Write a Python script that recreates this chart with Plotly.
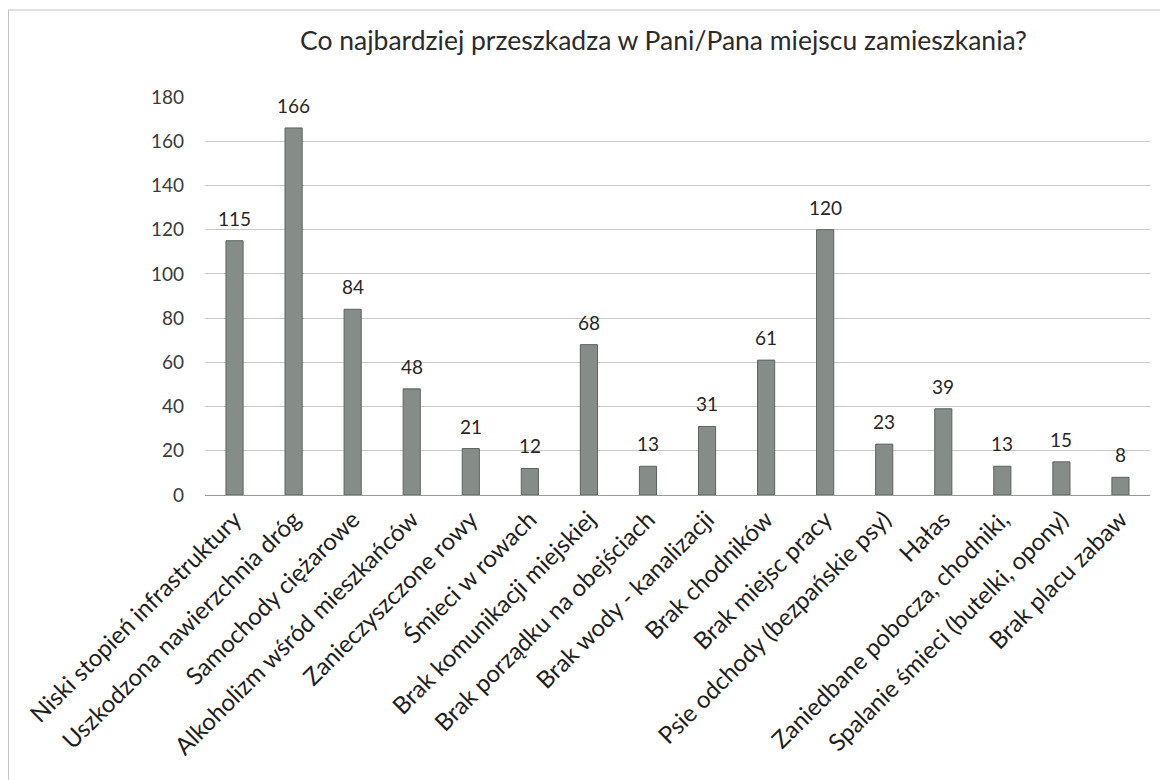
import plotly.graph_objects as go

title = "Co najbardziej przeszkadza w Pani/Pana miejscu zamieszkania?"
categories = [
    "Niski stopień infrastruktury",
    "Uszkodzona nawierzchnia dróg",
    "Samochody ciężarowe",
    "Alkoholizm wśród mieszkańców",
    "Zanieczyszczone rowy",
    "Śmieci w rowach",
    "Brak komunikacji miejskiej",
    "Brak porządku na obejściach",
    "Brak wody - kanalizacji",
    "Brak chodników",
    "Brak miejsc pracy",
    "Psie odchody (bezpańskie psy)",
    "Hałas",
    "Zaniedbane pobocza, chodniki,",
    "Spalanie śmieci (butelki, opony)",
    "Brak placu zabaw",
]
values = [115, 166, 84, 48, 21, 12, 68, 13, 31, 61, 120, 23, 39, 13, 15, 8]
y_ticks = [0, 20, 40, 60, 80, 100, 120, 140, 160, 180]

# page is offset by the 8px body margin of the html page
OFF = 8
W, H = 1168 - OFF, 780 - OFF
L, R, T, B = 205 - OFF, 1150 - OFF, 97 - OFF, 495 - OFF
FONT = "Lato, 'Open Sans', sans-serif"


def px_x(p):
    return (p - OFF - L) / (R - L)


def px_y(p):
    return (B - (p - OFF)) / (B - T)


fig = go.Figure()
fig.add_trace(go.Bar(
    x=categories,
    y=values,
    marker=dict(color="#868d89", line=dict(color="#5c625e", width=1)),
    hoverinfo="x+y",
))

annotations = []
for c, v in zip(categories, values):
    annotations.append(dict(
        x=c, y=v, xref="x", yref="y", text=str(v), showarrow=False,
        yanchor="bottom", yshift=9,
        font=dict(family=FONT, size=19, color="#262626"),
    ))
annotations.append(dict(
    x=px_x(663), y=px_y(40), xref="paper", yref="paper", text=title,
    showarrow=False, xanchor="center", yanchor="middle",
    font=dict(family=FONT, size=26.5, color="#2b2b2b"),
))

shapes = [
    dict(type="line", xref="paper", yref="paper",
         x0=px_x(8), x1=px_x(1168), y0=px_y(10), y1=px_y(10),
         line=dict(color="#c4c4c4", width=1)),
    dict(type="line", xref="paper", yref="paper",
         x0=px_x(8.5), x1=px_x(8.5), y0=px_y(10), y1=px_y(780),
         line=dict(color="#c4c4c4", width=1)),
]

fig.update_layout(
    width=W, height=H,
    margin=dict(l=L, r=W - R, t=T, b=H - B, pad=0),
    paper_bgcolor="white", plot_bgcolor="white",
    showlegend=False,
    bargap=0.71,
    annotations=annotations,
    shapes=shapes,
    font=dict(family=FONT),
)
fig.update_xaxes(
    tickangle=-45,
    tickfont=dict(family=FONT, size=24, color="#1e1e1e"),
    showgrid=False, showline=True, linecolor="#9a9a9a", linewidth=1,
    ticks="", automargin=False,
)
fig.update_yaxes(
    range=[0, 180], tickvals=y_ticks, ticktext=[str(t) for t in y_ticks],
    tickfont=dict(family=FONT, size=19, color="#3a3a3a"),
    showgrid=True, gridcolor="#c8c8c8", gridwidth=1,
    zeroline=False, showline=False, ticks="", ticklabelstandoff=20,
    automargin=False,
)

fig.write_html("out.html")
